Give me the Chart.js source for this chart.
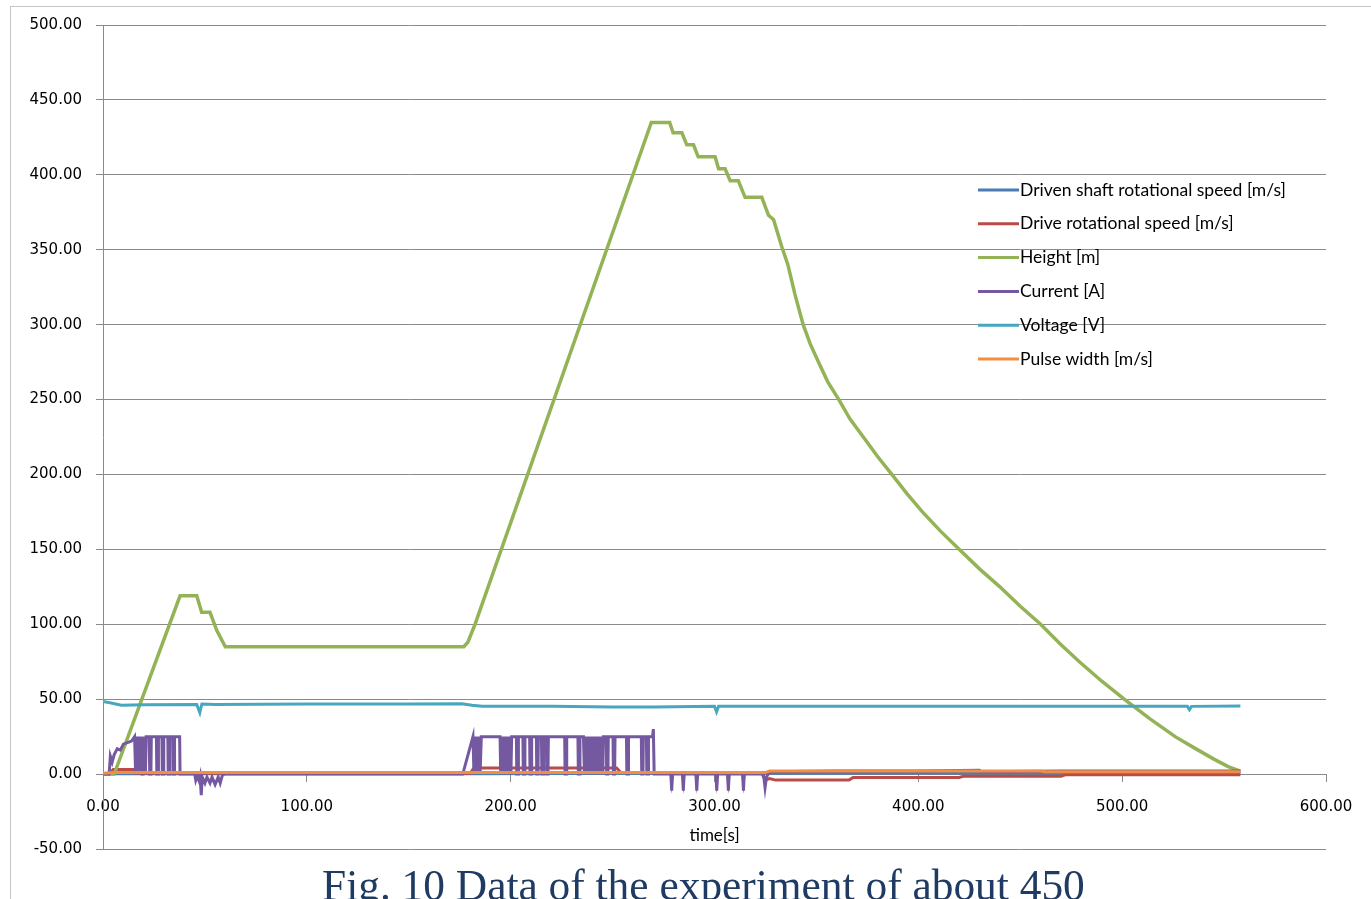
<!DOCTYPE html>
<html>
<head>
<meta charset="utf-8">
<title>Data of the experiment</title>
<script src="https://cdn.jsdelivr.net/npm/chart.js@4.4.1/dist/chart.umd.min.js"></script>
<style>
    html, body { margin: 0; padding: 0; background: #fff; overflow: hidden; }
    #wrap { position: relative; width: 1371px; height: 899px; overflow: hidden; }
    #frame { position: absolute; left: 10px; top: 6px; width: 1420px; height: 1000px; border: 1px solid #c4c4c4; }
    #chart { position: absolute; left: 0; top: 0; }
    #caption {
        position: absolute; left: 322px; top: 863px; white-space: nowrap; line-height: 44px;
        font-family: "Liberation Serif", "Times New Roman", serif; font-size: 43.4px; color: #1f3b63;
    }
</style>
</head>
<body>
<div id="wrap">
    <div id="frame"></div>
    <canvas id="chart" width="1371" height="899"></canvas>
    <div id="caption">Fig. 10 Data of the experiment of about 450</div>
</div>
<script>
// --- Datos (tiempo en s) ---
const seriesNames = [
    'Driven shaft rotational speed [m/s]',
    'Drive rotational speed [m/s]',
    'Height [m]',
    'Current [A]',
    'Voltage [V]',
    'Pulse width [m/s]'
];
const seriesColors = ['#4a7db8', '#bb4b48', '#93b356', '#7458a0', '#47a7c0', '#f28e42'];

const xTicks = [0, 100, 200, 300, 400, 500, 600];
const yTicks = [-50, 0, 50, 100, 150, 200, 250, 300, 350, 400, 450, 500];

const shaftT = [0, 180, 270, 325, 558];
const shaftV = [0.3, 0.3, 0.5, 0.5, 0.8];

const driveT = [0, 3, 5, 15, 17, 180, 182, 252, 254,
    278.6, 279, 279.4, 284.3, 284.7, 285.1, 290.9, 291.3, 291.7, 300.7, 301.1, 301.5,
    306.4, 306.8, 307.2, 313.8, 314.2, 314.6, 323.5, 324.8, 327, 330, 366, 368, 420, 422, 470, 472, 558];
const driveV = [0, 0, 3, 3, 0.5, 0.5, 4, 4, 1,
    1, -4, 1, 1, -4, 1, 1, -4, 1, 1, -4, 1,
    1, -4, 1, 1, -4, 1, 1, -4, -3, -4, -4, -2.2, -2.2, -1.5, -1.5, -0.5, -0.5];

const heightT = [0, 5.5, 37.8, 46, 48.4, 52.5, 55.8, 60, 177, 179, 182.5, 269, 278,
    279.7, 284, 286.4, 289.7, 292, 300.3, 302, 305.2, 307.7, 311.7, 315, 323.2, 326.5, 329,
    333, 336, 339.5, 343.5, 347, 351, 355.5, 361, 366.5, 373, 380, 387, 394.5, 402, 411, 420,
    430, 440, 450, 460, 469.5, 479, 490, 501, 513.5, 526, 536, 545, 552, 558];
const heightV = [0, 0, 119, 119, 108, 108, 96, 85, 85, 88, 100, 435, 435,
    428, 428, 420, 420, 412, 412, 404, 404, 396, 396, 385, 385, 373, 370,
    352, 340, 320, 300, 287, 275, 262, 250, 237, 225, 212, 200, 187, 175, 162, 150,
    137, 125, 112, 100, 87, 75, 62, 50, 37, 25, 17, 10, 5, 2];

const currentT = [0, 3, 3.6, 4.5, 5.5, 7, 8.5, 10, 12, 14, 15.5,
    16, 16.4, 16.8, 17.2, 17.6, 18, 18.4, 18.8, 19.2, 19.6, 20, 20.4, 20.8, 21.2, 21.6,
    22.7, 22.9, 23.5, 23.7, 26.2, 26.4, 27, 27.2, 28.9, 29.1, 29.6, 29.8,
    31.8, 32, 32.5, 32.7, 34.2, 34.4, 34.9, 35.1, 37.6, 37.8,
    45, 45.5, 46.2, 47, 47.6, 48.2, 48.7, 50, 51, 52.5, 53.5, 55, 56.5, 57.5, 58.5, 59.5,
    176.5, 181.5,
    182, 182.5, 183, 183.5, 184, 184.5, 185, 185.6,
    194.8, 195.1, 195.6, 196.1, 196.6, 197.1, 197.6, 198.1, 198.6, 199.1, 199.6, 200.1, 200.5,
    202.8, 203, 203.6, 203.8, 206, 206.2, 206.8, 207, 209.3, 209.5, 210.1, 210.3,
    212.6, 212.8, 213.4, 213.6, 215.1, 215.3, 215.9, 216.1, 217.5, 217.7, 218.3, 218.5,
    226.5, 226.7, 227.3, 227.5, 233, 233.2, 233.8, 234,
    235.7, 236.2, 236.7, 237.2, 237.7, 238.2, 238.7, 239.2, 239.7, 240.2, 240.7, 241.2,
    241.7, 242.2, 242.7, 243.2, 243.7, 244.2, 244.7, 245.2, 245.5,
    246.9, 247.1, 247.7, 247.9, 250.2, 250.4, 251, 251.2, 256.8, 257, 257.6, 257.8,
    264.1, 264.3, 264.9, 265.1, 266.6, 266.8, 267.4, 267.6, 269.6, 270, 270.4,
    278.6, 279, 279.4, 284.3, 284.7, 285.1, 290.9, 291.3, 291.7, 300.7, 301.1, 301.5,
    306.4, 306.8, 307.2, 313.8, 314.2, 314.6, 323.5, 324.3, 324.8, 325.5, 327,
    360, 400, 430, 431, 470, 500, 540, 558];
const currentV = [0, 0, 12, 8, 13, 17, 16, 20, 21, 22, 25,
    0, 25, 0, 25, 0, 25, 0, 25, 0, 25, 0, 25, 0, 25, 25,
    25, 0, 0, 25, 25, 0, 0, 25, 25, 0, 0, 25,
    25, 0, 0, 25, 25, 0, 0, 25, 25, 0,
    0, -4, -1, -4, -1, -14, -2, -6, -2, -6, -2, -7, -2, -6, -1, 0,
    0, 25,
    0, 25, 0, 25, 0, 25, 0, 25,
    25, 0, 25, 0, 25, 0, 25, 0, 25, 0, 25, 0, 25,
    25, 0, 0, 25, 25, 0, 0, 25, 25, 0, 0, 25,
    25, 0, 0, 25, 25, 0, 0, 25, 25, 0, 0, 25,
    25, 0, 0, 25, 25, 0, 0, 25,
    25, 0, 25, 0, 25, 0, 25, 0, 25, 0, 25, 0,
    25, 0, 25, 0, 25, 0, 25, 0, 25,
    25, 0, 0, 25, 25, 0, 0, 25, 25, 0, 0, 25,
    25, 0, 0, 25, 25, 0, 0, 25, 25, 30, 0,
    0, -11, 0, 0, -11, 0, 0, -11, 0, 0, -11, 0,
    0, -11, 0, 0, -11, 0, 0, -3, -9, -2, 1.5,
    2, 2, 2.5, 1.5, 2, 2, 2, 2];

const voltageT = [0, 4, 9, 20, 46, 47.5, 48.5, 55, 100, 150, 176, 181, 186, 220, 250,
    270, 300, 301, 302, 350, 400, 450, 500, 532, 533, 534, 558];
const voltageV = [48.5, 47.5, 46, 46.3, 46.5, 41, 46.8, 46.5, 46.8, 46.8, 47, 46, 45.3, 45.2, 44.8,
    44.8, 45.3, 41.5, 45.3, 45.3, 45.2, 45.3, 45.2, 45.2, 43, 45.2, 45.5];

const pulseT = [0, 5, 15, 180, 270, 325, 327, 460, 462, 558];
const pulseV = [0.5, 1, 1, 1, 1, 1, 2, 2, 1.5, 1.5];

const seriesT = [shaftT, driveT, heightT, currentT, voltageT, pulseT];
const seriesV = [shaftV, driveV, heightV, currentV, voltageV, pulseV];

document.addEventListener('DOMContentLoaded', () => {
    initChart();
});

function toPoints(ts, vs) {
    return ts.map((t, i) => ({ x: t, y: vs[i] }));
}

// Leyenda dentro del área del gráfico, como en Excel
const insideLegend = {
    id: 'insideLegend',
    afterDraw(chart) {
        const ctx = chart.ctx;
        ctx.save();
        ctx.font = '17.5px Lato';
        ctx.textBaseline = 'middle';
        seriesNames.forEach((name, i) => {
            const y = 190 + i * 33.8;
            ctx.strokeStyle = seriesColors[i];
            ctx.lineWidth = 3;
            ctx.beginPath();
            ctx.moveTo(978, y);
            ctx.lineTo(1019, y);
            ctx.stroke();
            ctx.fillStyle = '#000';
            ctx.fillText(name, 1020, y);
        });
        ctx.restore();
    }
};

function initChart() {
    const ctx = document.getElementById('chart').getContext('2d');
    const datasets = seriesNames.map((name, i) => ({
        label: name,
        data: toPoints(seriesT[i], seriesV[i]),
        borderColor: seriesColors[i],
        backgroundColor: seriesColors[i],
        borderWidth: i === 2 ? 3.5 : 3,
        pointRadius: 0,
        tension: 0,
        order: seriesNames.length - i
    }));

    new Chart(ctx, {
        type: 'line',
        data: { datasets },
        plugins: [insideLegend],
        options: {
            responsive: false,
            animation: false,
            layout: { padding: { top: 25, right: 45, bottom: 50, left: 0 } },
            plugins: { legend: { display: false }, tooltip: { enabled: false } },
            scales: {
                x: {
                    type: 'linear',
                    min: 0, max: 600,
                    position: { y: 0 },
                    afterBuildTicks: s => { s.ticks = xTicks.map(v => ({ value: v })); },
                    ticks: {
                        callback: v => v.toFixed(2),
                        font: { family: 'DejaVu Sans', size: 15 },
                        color: '#000',
                        padding: 17,
                        maxRotation: 0
                    },
                    grid: { drawOnChartArea: false, tickLength: 7, color: '#8a8a8a' },
                    border: { color: '#8a8a8a' },
                    title: {
                        display: true, text: 'time[s]', color: '#000',
                        font: { family: 'Lato', size: 17 },
                        padding: { top: -8, bottom: 0 }
                    }
                },
                y: {
                    min: -50, max: 500,
                    afterBuildTicks: s => { s.ticks = yTicks.map(v => ({ value: v })); },
                    afterFit: s => { s.width = 103; },
                    ticks: {
                        callback: v => v.toFixed(2),
                        font: { family: 'DejaVu Sans', size: 15 },
                        color: '#000',
                        padding: 14
                    },
                    grid: { tickLength: 7, color: '#8a8a8a' },
                    border: { color: '#8a8a8a' }
                }
            }
        }
    });
}
</script>
</body>
</html>
